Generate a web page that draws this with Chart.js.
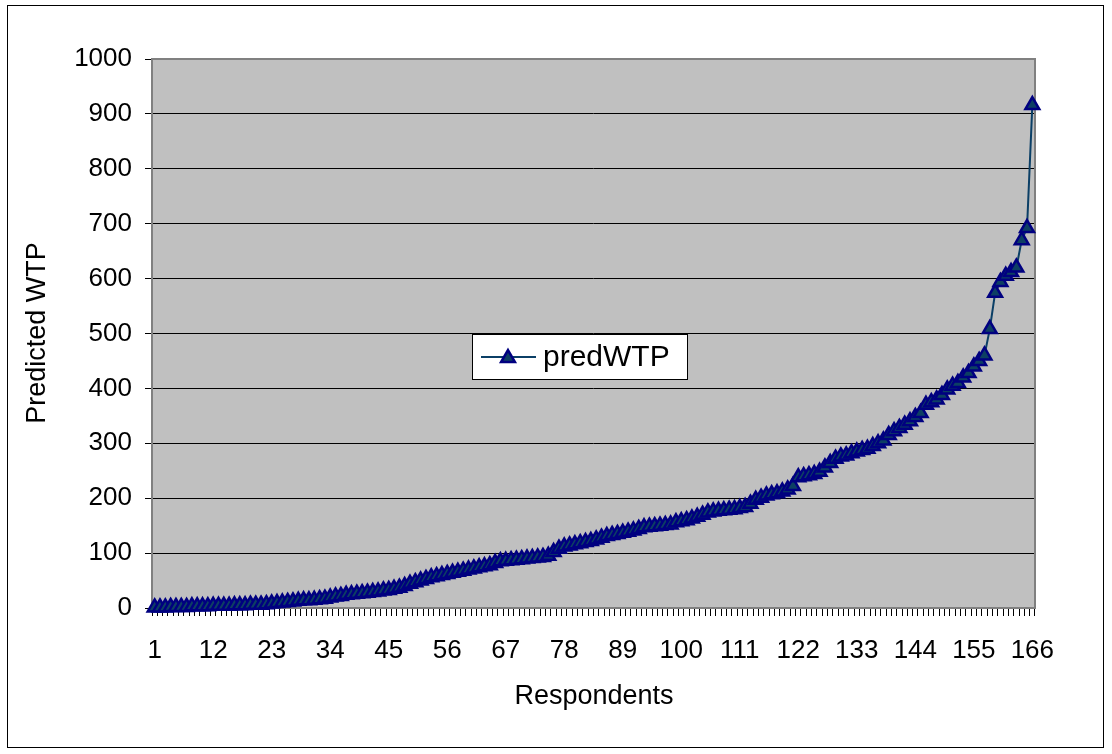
<!DOCTYPE html>
<html>
<head>
<meta charset="utf-8">
<script src="https://cdn.jsdelivr.net/npm/chart.js@4/dist/chart.umd.min.js"></script>
<style>
  html, body { margin: 0; padding: 0; background: #fff; }
  #wrap { position: relative; width: 1112px; height: 754px; }
  canvas { display: block; }
</style>
</head>
<body>
<div id="wrap"><canvas id="c" width="1112" height="754"></canvas></div>
<script>
// ---- data ----
const seriesName = "predWTP";
const xTitle = "Respondents";
const yTitle = "Predicted WTP";
const respondents = Array.from({length: 166}, (_, i) => String(i + 1));
const predWTP = [
  1,1,1,2,2,2,2,3,3,3,3,4,4,4,4,5,5,5,6,6,6,7,
  8,9,10,11,12,13,14,14,15,16,17,
  19,21,22,24,25,26,27,28,29,30,32,33,35,37,
  40,44,47,50,53,56,58,60,62,64,
  66,68,70,72,74,76,78,82,
  85,86,87,88,89,90,91,92,93,95,
  102,108,112,114,116,118,120,122,125,128,131,
  133,135,137,139,141,144,147,148,149,150,151,152,156,
  158,160,163,166,170,174,176,177,178,179,180,182,184,
  190,197,201,205,207,209,212,216,222,
  238,240,242,244,248,256,
  264,272,276,278,282,285,
  288,290,295,300,305,315,322,
  328,334,340,348,355,
  370,375,380,388,398,
  405,410,420,428,440,450,460,
  508,574,594,605,612,620,670,692,916
];
const yTicks = [0,100,200,300,400,500,600,700,800,900,1000];
const labelEvery = 11;

// ---- styles ----
const FONT = "'Liberation Sans', Arial, sans-serif";
const lineColor = "#0B3F66";
const markerFill = "#0D3F63";
const markerBorder = "#000080";

const decor = {
  id: 'decor',
  beforeDraw(chart) {
    const {ctx, chartArea: a} = chart;
    ctx.save();
    ctx.fillStyle = '#fff';
    ctx.fillRect(0, 0, chart.width, chart.height);
    ctx.strokeStyle = '#000';
    ctx.lineWidth = 1;
    ctx.strokeRect(7.5, 5.5, 1096, 742);
    ctx.fillStyle = '#C0C0C0';
    ctx.fillRect(a.left, a.top, a.right - a.left, a.bottom - a.top);
    ctx.restore();
  },
  beforeDatasetsDraw(chart) {
    const {ctx, chartArea: a} = chart;
    ctx.save();
    ctx.strokeStyle = '#808080';
    ctx.lineWidth = 2;
    ctx.strokeRect(a.left, a.top, a.right - a.left, a.bottom - a.top);
    ctx.restore();
  },
  afterDraw(chart) {
    const {ctx} = chart;
    ctx.save();
    ctx.fillStyle = '#000';
    ctx.font = "27px " + FONT;
    ctx.textAlign = 'center';
    ctx.textBaseline = 'middle';
    ctx.fillText(xTitle, 594, 697);
    ctx.translate(38, 333);
    ctx.rotate(-Math.PI / 2);
    ctx.fillText(yTitle, 0, 0);
    ctx.restore();

    // legend
    ctx.save();
    ctx.fillStyle = '#fff';
    ctx.fillRect(472.5, 334.5, 215, 45);
    ctx.strokeStyle = '#000';
    ctx.lineWidth = 1;
    ctx.strokeRect(472.5, 334.5, 215, 45);
    ctx.strokeStyle = lineColor;
    ctx.lineWidth = 2;
    ctx.beginPath();
    ctx.moveTo(481, 357);
    ctx.lineTo(536, 357);
    ctx.stroke();
    const cx = 508, cy = 358, r = 8;
    ctx.beginPath();
    ctx.moveTo(cx, cy - r);
    ctx.lineTo(cx + r * 0.866, cy + r / 2);
    ctx.lineTo(cx - r * 0.866, cy + r / 2);
    ctx.closePath();
    ctx.fillStyle = markerFill;
    ctx.fill();
    ctx.strokeStyle = markerBorder;
    ctx.lineWidth = 2.5;
    ctx.stroke();
    ctx.fillStyle = '#000';
    ctx.font = "30px " + FONT;
    ctx.textAlign = 'left';
    ctx.textBaseline = 'middle';
    ctx.fillText(seriesName, 543, 358);
    ctx.restore();
  }
};

new Chart(document.getElementById('c'), {
  type: 'line',
  data: {
    labels: respondents,
    datasets: [{
      label: seriesName,
      data: predWTP,
      borderColor: lineColor,
      borderWidth: 2,
      pointStyle: 'triangle',
      pointRadius: 8,
      pointBackgroundColor: markerFill,
      pointBorderColor: markerBorder,
      pointBorderWidth: 2.5,
      tension: 0,
      clip: false
    }]
  },
  options: {
    responsive: false,
    animation: false,
    devicePixelRatio: 1,
    layout: { padding: { left: 0, right: 77, top: 59, bottom: 0 } },
    plugins: { legend: { display: false }, tooltip: { enabled: false } },
    scales: {
      x: {
        type: 'category',
        offset: true,
        border: { display: false },
        grid: { display: true, offset: true, drawOnChartArea: false, drawTicks: true, tickLength: 8, color: '#000', lineWidth: 1 },
        ticks: {
          autoSkip: false, maxRotation: 0, minRotation: 0, padding: 19,
          color: '#000', font: { family: FONT, size: 26 },
          callback: (v, i) => (i % labelEvery === 0 ? respondents[i] : '')
        },
        afterFit(scale) { scale.height = 146; }
      },
      y: {
        min: 0, max: 1000,
        border: { display: false },
        grid: { color: '#000', lineWidth: 1, tickLength: 7, drawTicks: true },
        afterBuildTicks(scale) { scale.ticks = yTicks.map(v => ({ value: v })); },
        ticks: { padding: 13, color: '#000', font: { family: FONT, size: 26 },
          callback: (v) => String(v) },
        afterFit(scale) { scale.width = 152; }
      }
    }
  },
  plugins: [decor]
});
</script>
</body>
</html>
